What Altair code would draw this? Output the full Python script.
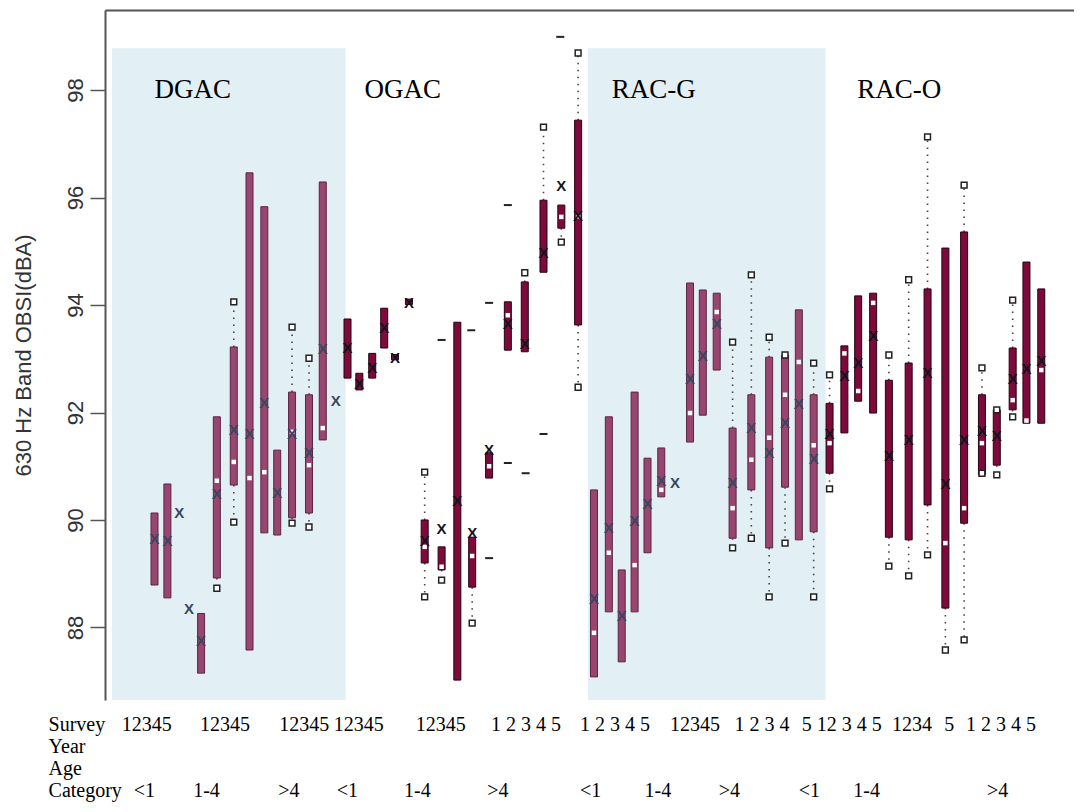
import altair as alt
import pandas as pd

# ---------------- data ----------------
surface_names = ["DGAC", "OGAC", "RAC-G", "RAC-O"]
surface_label_slot = [2.97, 16.98, 33.49, 49.87]
surface_label_level = [98.0, 98.0, 98.0, 98.0]

shade_from = [0.13, 31.90]
shade_to = [15.72, 47.75]
shade_top = [98.78, 98.78]
shade_bottom = [86.65, 86.65]

box_surface = ["DGAC"] * 14 + ["OGAC"] * 16 + ["RAC-G"] * 16 + ["RAC-O"] * 14

box_slot = [2.97, 3.83, 4.62, 5.28, 6.08, 7.13, 8.26, 9.31, 10.30, 11.16, 12.15, 13.28, 14.20, 15.06,
            15.85, 16.64, 17.50, 18.30, 19.02, 19.95, 21.00, 22.13, 23.18, 24.17, 25.30, 26.55, 27.68, 28.93, 30.12, 31.24,
            32.30, 33.29, 34.15, 35.01, 35.87, 36.79, 37.71, 38.71, 39.56, 40.49, 41.55, 42.80, 43.99, 45.05, 45.97, 46.96,
            48.02, 49.01, 49.93, 50.93, 51.98, 53.30, 54.56, 55.75, 57.00, 58.19, 59.18, 60.24, 61.16, 62.15]

box_q3 = [90.13, 90.67, None, None, 88.26, 91.92, 93.22, 96.46, 95.83, 91.30, 92.38, 92.33, 96.29, None,
          93.74, 92.73, 93.10, 93.94, 93.08, 94.11, 90.00, 89.50, 93.68, 89.68, 91.25, 94.06, 94.43, 95.95, 95.86, 97.44,
          90.56, 91.92, 89.07, 92.38, 91.15, 91.34, None, 94.41, 94.28, 94.22, 91.71, 92.33, 93.03, 93.07, 93.91, 92.33,
          92.17, 93.24, 94.17, 94.22, 92.60, 92.92, 94.30, 95.06, 95.36, 92.33, 92.05, 93.20, 94.80, 94.30]

box_q1 = [88.79, 88.55, None, None, 87.15, 88.92, 90.65, 87.58, 89.76, 89.72, 90.04, 90.13, 91.49, None,
          92.64, 92.42, 92.64, 93.20, 92.98, 94.01, 89.20, 89.07, 87.02, 88.75, 90.78, 93.16, 93.13, 94.61, 95.43, 93.63,
          87.08, 88.29, 87.36, 88.29, 89.39, 90.43, None, 91.45, 91.95, 92.79, 89.66, 90.56, 89.48, 90.61, 89.63, 89.78,
          90.87, 91.62, 92.21, 91.99, 89.68, 89.63, 90.28, 88.36, 89.94, 90.84, 91.02, 92.05, 91.80, 91.80]

box_median = [None, None, None, None, None, 90.73, 91.08, 90.78, 90.89, None, 91.64, 91.02, 91.71, None,
              None, None, None, None, None, None, 89.50, 89.13, None, 89.33, 91.00, 93.81, None, None, 95.64, 95.65,
              87.90, 89.39, None, 89.16, None, 90.56, None, 91.99, None, 93.87, 90.22, 91.12, 91.53, 92.33, 92.94, 91.39,
              91.43, 93.10, 92.40, 94.04, None, None, None, 89.57, 90.22, 91.43, None, 92.23, 91.85, 92.79]

box_mean = [89.67, 89.63, 90.15, 88.36, 87.77, 90.50, 91.69, 91.62, 92.20, 90.52, 91.62, 91.26, 93.20, 92.23,
            93.22, 92.55, 92.85, 93.59, 93.03, 94.06, 89.63, 89.85, 90.37, 89.78, 91.32, 93.66, 93.29, 94.99, 96.23, 95.67,
            88.55, 89.87, 88.23, 90.00, 90.32, 90.74, 90.71, 92.64, 93.07, 93.66, 90.71, 91.73, 91.26, 91.82, 92.17, 91.15,
            91.62, 92.70, 92.94, 93.44, 91.21, 91.51, 92.75, 90.69, 91.51, 91.67, 91.58, 92.64, 92.83, 92.98]

box_max = [None, None, None, None, None, None, 94.06, None, None, None, 93.59, 93.01, None, None,
           None, None, None, None, None, None, 90.89, None, None, None, None, None, 94.60, 97.31, None, 98.69,
           None, None, None, None, None, None, None, None, None, None, 93.31, 94.56, 93.40, 93.07, None, 92.92,
           92.70, None, None, None, 93.07, 94.47, 97.13, None, 96.23, 92.83, 92.05, 94.09, None, None]

box_min = [None, None, None, None, None, 88.73, 89.96, None, None, None, 89.94, 89.87, None, None,
           None, None, None, None, None, None, 88.57, 88.88, None, 88.08, None, None, None, None, 95.17, 92.47,
           None, None, None, None, None, None, None, None, None, None, 89.48, 89.66, 88.57, 89.57, None, 88.57,
           90.58, None, None, None, 89.14, 88.96, 89.35, 87.58, 87.77, 90.87, 90.84, 91.92, None, None]

dash_slot = [22.13, 24.11, 25.30, 25.30, 26.55, 26.55, 27.74, 28.93, 30.05]
dash_level = [93.35, 93.53, 94.04, 89.29, 95.86, 91.06, 90.87, 91.60, 98.99]

row_names = ["Survey", "Year", "Age", "Category"]
row_title_slot = -4.10

survey_text = ["12345", "12345", "12345", "12345", "12345", "1 2 3 4 5", "1 2 3 4 5", "12345",
               "1 2 3 4", "5 12 3 4 5", "1234", "5", "1 2 3 4 5"]
survey_slot = [0.79, 6.01, 11.29, 14.93, 20.41, 25.43, 31.37, 37.38, 41.68, 46.17, 52.18, 55.68, 57.13]

age_text = ["<1", "1-4", ">4"] * 4
age_slot = [1.59, 5.55, 11.23, 15.13, 19.62, 25.17, 31.37, 35.67, 40.62, 45.97, 49.60, 58.52]

# ---------------- tables ----------------
boxes = pd.DataFrame({
    "surface": box_surface, "slot": box_slot, "q1": box_q1, "q3": box_q3,
    "median": box_median, "mean": box_mean, "wmax": box_max, "wmin": box_min,
})
boxes["shaded"] = boxes["surface"].isin(["DGAC", "RAC-G"])

shade = pd.DataFrame({"x0": shade_from, "x1": shade_to, "top": shade_top, "bottom": shade_bottom})
dashes = pd.DataFrame({"slot": dash_slot, "level": dash_level})
surf_labels = pd.DataFrame({"name": surface_names, "slot": surface_label_slot, "level": surface_label_level})

label_rows = (
    [{"text": r, "slot": row_title_slot, "row": r} for r in row_names]
    + [{"text": t, "slot": s, "row": "Survey"} for t, s in zip(survey_text, survey_slot)]
    + [{"text": t, "slot": s, "row": "Category"} for t, s in zip(age_text, age_slot)]
)
bottom_labels = pd.DataFrame(label_rows)

# ---------------- scales & axes ----------------
xs = alt.Scale(domain=[0, 64], nice=False, zero=False)
ys = alt.Scale(domain=[86.65, 99.49], nice=False, zero=False)

x_axis = alt.Axis(orient="top", labels=False, ticks=False, grid=False, title=None,
                  domainColor="#555555", domainWidth=2)
y_axis = alt.Axis(values=[88, 90, 92, 94, 96, 98], grid=False, tickSize=15, tickWidth=1.5,
                  tickColor="#555555", domainColor="#555555", domainWidth=2,
                  labelAngle=270, labelAlign="center", labelBaseline="alphabetic", labelPadding=8,
                  labelFontSize=22, labelFont="Liberation Sans", labelColor="#333333",
                  title="630 Hz Band OBSI(dBA)", titleFontSize=22, titleFont="Liberation Sans",
                  titleFontWeight="normal", titleColor="#333333", titleAngle=270,
                  titleAlign="center", titleBaseline="alphabetic", titleX=-75, titleY=345)


def X(field):
    return alt.X(field, type="quantitative", scale=xs, axis=x_axis)


def Y(field):
    return alt.Y(field, type="quantitative", scale=ys, axis=y_axis)


shade_layer = alt.Chart(shade).mark_rect(color="#e2eff5").encode(
    x=X("x0"), x2="x1", y=Y("top"), y2="bottom")

upper_whisker = alt.Chart(boxes).transform_filter(
    "isValid(datum.wmax) && isValid(datum.q3)"
).mark_rule(color="#444444", strokeWidth=1.6, strokeDash=[1.5, 5.5]).encode(
    x=X("slot"), y=Y("q3"), y2="wmax")

lower_whisker = alt.Chart(boxes).transform_filter(
    "isValid(datum.wmin) && isValid(datum.q1)"
).mark_rule(color="#444444", strokeWidth=1.6, strokeDash=[1.5, 5.5]).encode(
    x=X("slot"), y=Y("q1"), y2="wmin")

bars = alt.Chart(boxes).transform_filter("isValid(datum.q1)").mark_bar(size=7, strokeWidth=1).encode(
    x=X("slot"), y=Y("q1"), y2="q3",
    fill=alt.condition(alt.datum.shaded, alt.value("#98456f"), alt.value("#7c0a3b")),
    stroke=alt.condition(alt.datum.shaded, alt.value("#5a2645"), alt.value("#2a0012")),
)

max_marks = alt.Chart(boxes).transform_filter("isValid(datum.wmax)").mark_point(
    shape="square", filled=True, fill="white", stroke="#222222", strokeWidth=1.5, size=34, opacity=1
).encode(x=X("slot"), y=Y("wmax"))

min_marks = alt.Chart(boxes).transform_filter("isValid(datum.wmin)").mark_point(
    shape="square", filled=True, fill="white", stroke="#222222", strokeWidth=1.5, size=34, opacity=1
).encode(x=X("slot"), y=Y("wmin"))

medians = alt.Chart(boxes).transform_filter("isValid(datum.median)").mark_point(
    shape="square", filled=True, color="white", size=20, opacity=1
).encode(x=X("slot"), y=Y("median"))

means = alt.Chart(boxes).transform_filter("isValid(datum.mean)").mark_text(
    text="X", fontSize=15, fontWeight="bold", font="Liberation Sans", align="center", baseline="middle", dy=1
).encode(
    x=X("slot"), y=Y("mean"),
    color=alt.condition(alt.datum.shaded, alt.value("#3a4560"), alt.value("#141420")),
)

dash_layer = alt.Chart(dashes).mark_point(
    shape="stroke", size=64, strokeWidth=2, color="#222222", opacity=1
).encode(x=X("slot"), y=Y("level"))

surface_text = alt.Chart(surf_labels).mark_text(
    font="Liberation Serif", fontSize=27, align="left", baseline="middle", color="black"
).encode(x=X("slot"), y=Y("level"), text="name:N")

main = alt.layer(shade_layer, upper_whisker, lower_whisker, bars, max_marks, min_marks,
                 medians, means, dash_layer, surface_text)

bottom = alt.Chart(bottom_labels).mark_text(
    font="Liberation Serif", fontSize=20, align="left", baseline="middle", color="black"
).encode(
    x=X("slot"),
    y=alt.Y("row:O", scale=alt.Scale(type="point", domain=row_names, range=[715, 781], padding=0), axis=None),
    text="text:N",
)

chart = alt.layer(main, bottom).resolve_scale(y="independent").properties(
    width=969, height=690,
    autosize=alt.AutoSizeParams(type="none"),
    padding={"left": 97, "top": 2, "right": 0, "bottom": 104},
    background="white",
).configure_view(stroke=None)

chart.save("out.html", embed_options={"renderer": "svg", "actions": False})
